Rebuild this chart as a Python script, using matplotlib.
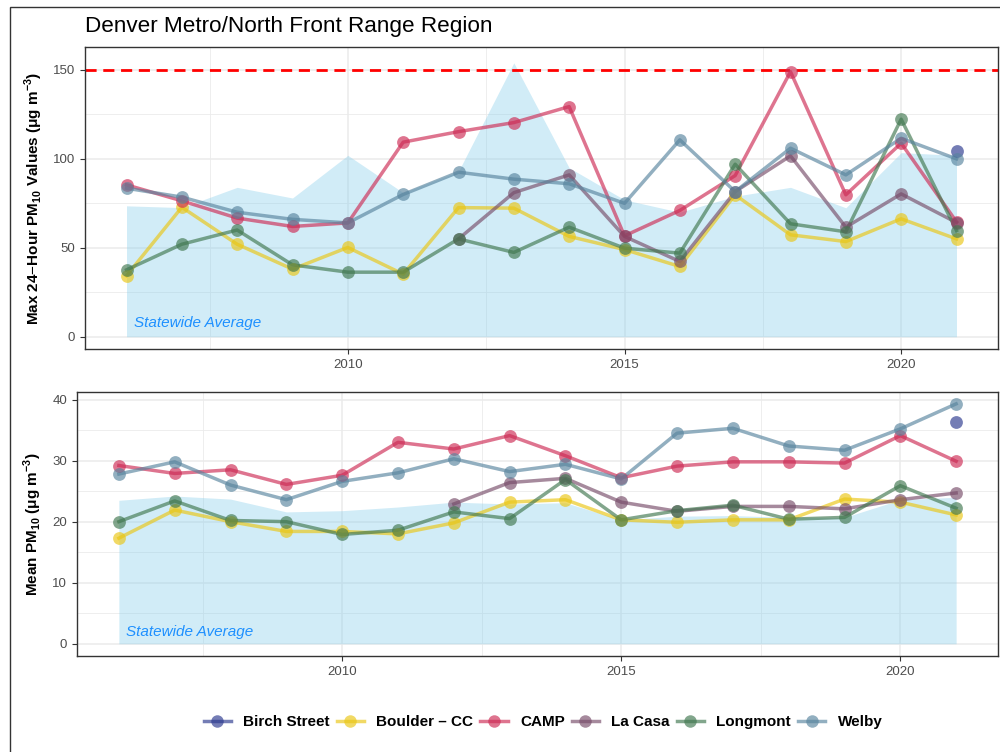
import numpy as np
import matplotlib
matplotlib.use("Agg")
import matplotlib.pyplot as plt
from matplotlib.lines import Line2D
from matplotlib.patches import Rectangle

plt.rcParams['font.family'] = ['Liberation Sans', 'DejaVu Sans']
plt.rcParams['mathtext.fontset'] = 'custom'
plt.rcParams['mathtext.rm'] = 'Liberation Sans'
plt.rcParams['mathtext.bf'] = 'Liberation Sans:bold'

nan = np.nan
years = list(range(2006, 2022))
stations = ["Birch Street", "Boulder \u2013 CC", "CAMP", "La Casa", "Longmont", "Welby"]
colors = ["#2a388e", "#eac613", "#cd2a54", "#774c69", "#40774f", "#58849e"]

# max 24-hour values
statewide_max = [73.6, 72.6, 84, 78, 102, 81, 93, 154, 95, 77, 70, 79, 84, 72.5, 103.5, 102]
birch_max = [nan] * 15 + [104.5]
boulder_max = [34.3, 72.8, 52, 38, 50.2, 35.2, 72.6, 72.3, 56.4, 49, 39.5, 79.8, 57.3, 53.5, 66.3, 55]
camp_max = [85.4, 76.4, 66.7, 62, 64, 109.4, 115.3, 120.4, 129.4, 56.7, 71, 90.6, 149, 79.8, 108.8, 64.6]
lacasa_max = [nan] * 6 + [55, 81, 91, 56.4, 42.3, 81.6, 101.7, 61.6, 80.3, 64.2]
longmont_max = [37.6, 52, 60, 40.4, 36.3, 36.3, 55, 47.4, 61.6, 49.8, 47, 97, 63.5, 59, 122.3, 59.7]
welby_max = [83.5, 78.5, 70, 66, 64, 80, 92.5, 88.6, 86, 75, 110.7, 81.6, 106, 91, 111.6, 100]

# annual means
statewide_mean = [23.5, 24.2, 23.7, 21.6, 21.8, 22.4, 23.2, 22.9, 23.1, 20.3, 20.9, 21.0, 20.7, 20.7, 23.6, 24.0]
birch_mean = [nan] * 15 + [36.3]
boulder_mean = [17.3, 21.9, 20, 18.4, 18.4, 18, 19.8, 23.2, 23.6, 20.3, 19.9, 20.3, 20.3, 23.7, 23.2, 21.1]
camp_mean = [29.2, 27.9, 28.5, 26.1, 27.6, 33, 31.9, 34.1, 30.8, 27.2, 29.1, 29.8, 29.8, 29.6, 34.1, 29.9]
lacasa_mean = [nan] * 6 + [22.9, 26.4, 27.1, 23.2, 21.7, 22.5, 22.5, 22.1, 23.6, 24.7]
longmont_mean = [20, 23.4, 20.2, 20, 17.9, 18.6, 21.6, 20.5, 26.9, 20.3, 21.8, 22.7, 20.4, 20.7, 25.9, 22.2]
welby_mean = [27.8, 29.8, 26, 23.6, 26.6, 28, 30.3, 28.2, 29.4, 27, 34.5, 35.3, 32.4, 31.7, 35.2, 39.3]

max_series = [birch_max, boulder_max, camp_max, lacasa_max, longmont_max, welby_max]
mean_series = [birch_mean, boulder_mean, camp_mean, lacasa_mean, longmont_mean, welby_mean]

fig = plt.figure(figsize=(10, 7.52), dpi=100)
fig.patches.append(Rectangle((0.010, -0.1), 1.2, 1.091, transform=fig.transFigure,
                             fill=False, edgecolor="#333333", linewidth=1.0))


def style_axes(ax, ylim, ymajor, yminor):
    ax.set_xlim(2005.25, 2021.75)
    ax.set_ylim(*ylim)
    ax.set_xticks([2010, 2015, 2020])
    ax.set_xticks([2007.5, 2012.5, 2017.5], minor=True)
    ax.set_yticks(ymajor)
    ax.set_yticks(yminor, minor=True)
    ax.grid(which="major", color="#ebebeb", linewidth=1.1, zorder=0)
    ax.grid(which="minor", color="#ebebeb", linewidth=0.6, zorder=0)
    ax.set_axisbelow(True)
    for s in ax.spines.values():
        s.set_color("#333333")
        s.set_linewidth(1.0)
    ax.tick_params(which="major", length=3.5, color="#333333", labelsize=9.5,
                   labelcolor="#4d4d4d", width=0.8)
    ax.tick_params(which="minor", length=0)


def draw_panel(ax, statewide, series):
    ax.fill_between(years, 0, statewide, color="#87CEEB", alpha=0.38, linewidth=0, zorder=1)
    for vals, c in zip(series, colors):
        ax.plot(years, vals, color=c, alpha=0.65, linewidth=2.5, zorder=3)
        ax.scatter(years, vals, s=85, color=c, alpha=0.65, linewidths=0, zorder=4)


ax1 = fig.add_axes([0.085, 0.5359, 0.913, 0.4016])
style_axes(ax1, (-6.9, 162.9), [0, 50, 100, 150], [25, 75, 125])
draw_panel(ax1, statewide_max, max_series)
ax1.axhline(150, color="red", linestyle=(0, (4, 2.4)), linewidth=2.0, zorder=2)
ax1.text(2006.13, 7.5, "Statewide Average", style="italic", color="#1E90FF",
         fontsize=11, ha="left", va="center", zorder=5)
ax1.set_ylabel(r"Max 24$-$Hour PM$_{\mathbf{10}}$ Values ($\mathbf{\mu}$g m$^{\mathbf{-3}}$)",
               fontsize=11, fontweight="bold", labelpad=6)
fig.text(0.085, 0.9645, "Denver Metro/North Front Range Region", fontsize=16.2,
         ha="left", va="center")

ax2 = fig.add_axes([0.077, 0.1277, 0.921, 0.3515])
style_axes(ax2, (-2.0, 41.3), [0, 10, 20, 30, 40], [5, 15, 25, 35])
draw_panel(ax2, statewide_mean, mean_series)
ax2.text(2006.12, 2.0, "Statewide Average", style="italic", color="#1E90FF",
         fontsize=11, ha="left", va="center", zorder=5)
ax2.set_ylabel(r"Mean PM$_{\mathbf{10}}$ ($\mathbf{\mu}$g m$^{\mathbf{-3}}$)",
               fontsize=11, fontweight="bold", labelpad=6)

handles = [Line2D([0], [0], color=c, alpha=0.65, linewidth=2.5, marker="o",
                  markersize=9, markeredgewidth=0) for c in colors]
leg = fig.legend(handles, stations, loc="center", bbox_to_anchor=(0.543, 0.04), ncol=6,
                 frameon=False, handlelength=1.8, handletextpad=0.8, columnspacing=0.45,
                 prop={"weight": "bold", "size": 11})

fig.savefig("out.png", dpi=100)
